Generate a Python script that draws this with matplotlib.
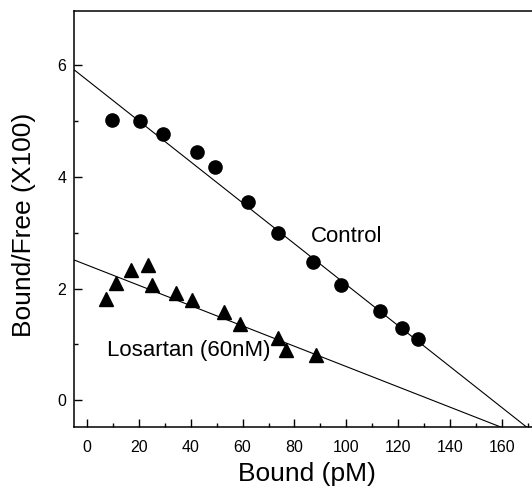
#!/usr/bin/env python3
"""Scatchard plot: Bound/Free vs Bound, control vs losartan (60nM)."""

import numpy as np
import matplotlib
matplotlib.use("Agg")
import matplotlib.pyplot as plt
from matplotlib.ticker import MultipleLocator

plt.rcParams.update({
    "font.family": ["Liberation Sans", "DejaVu Sans"],
})

# Control (circles)
CONTROL_X = [9.5, 20.3, 29.1, 42.2, 49.2, 61.9, 73.8, 87.3, 98.1, 113.1, 121.6, 127.7]
CONTROL_Y = [5.02, 5.00, 4.77, 4.44, 4.18, 3.55, 3.00, 2.47, 2.06, 1.59, 1.29, 1.09]

# Losartan 60nM (triangles)
LOSARTAN_X = [7.2, 11.1, 17.1, 23.5, 25.2, 34.4, 40.6, 52.8, 59.1, 73.5, 76.8, 88.3]
LOSARTAN_Y = [1.82, 2.10, 2.33, 2.42, 2.06, 1.92, 1.79, 1.58, 1.37, 1.11, 0.90, 0.81]

# regression lines (intercept, slope)
CONTROL_FIT = (5.73, -0.0366)
LOSARTAN_FIT = (2.42, -0.01815)

XLIM = (-4.9, 171.7)
YLIM = (-0.48, 6.97)

fig = plt.figure(figsize=(5.32, 4.91), dpi=100)
ax = fig.add_axes([0.140, 0.130, 0.860, 0.848])

xx = np.linspace(XLIM[0], XLIM[1], 200)
for b0, b1 in (CONTROL_FIT, LOSARTAN_FIT):
    ax.plot(xx, b0 + b1 * xx, color="black", lw=0.8, zorder=2)

ax.plot(CONTROL_X, CONTROL_Y, "o", color="black", ms=9.5, zorder=3)
ax.plot(LOSARTAN_X, LOSARTAN_Y, "^", color="black", ms=10, zorder=3)

ax.text(86.4, 2.93, "Control", fontsize=16, va="center", ha="left")
ax.text(7.5, 0.90, "Losartan (60nM)", fontsize=16, va="center", ha="left")

ax.set_xlim(*XLIM)
ax.set_ylim(*YLIM)
ax.xaxis.set_major_locator(MultipleLocator(20))
ax.xaxis.set_minor_locator(MultipleLocator(10))
ax.yaxis.set_major_locator(MultipleLocator(2))
ax.yaxis.set_minor_locator(MultipleLocator(1))

ax.tick_params(which="both", direction="in", top=False, right=False, width=1.0)
ax.tick_params(which="major", length=6)
ax.tick_params(which="minor", length=3)
ax.tick_params(axis="x", labelsize=11.5, pad=9)
ax.tick_params(axis="y", labelsize=11.5, pad=6)

ax.spines["right"].set_visible(False)
for s in ("left", "bottom", "top"):
    ax.spines[s].set_linewidth(1.1)

ax.set_xlabel("Bound (pM)", fontsize=19)
ax.set_ylabel("Bound/Free (X100)", fontsize=19)
ax.xaxis.set_label_coords(0.508, -0.084)
ax.yaxis.set_label_coords(-0.084, 0.486)

fig.savefig("out.png", dpi=100)
